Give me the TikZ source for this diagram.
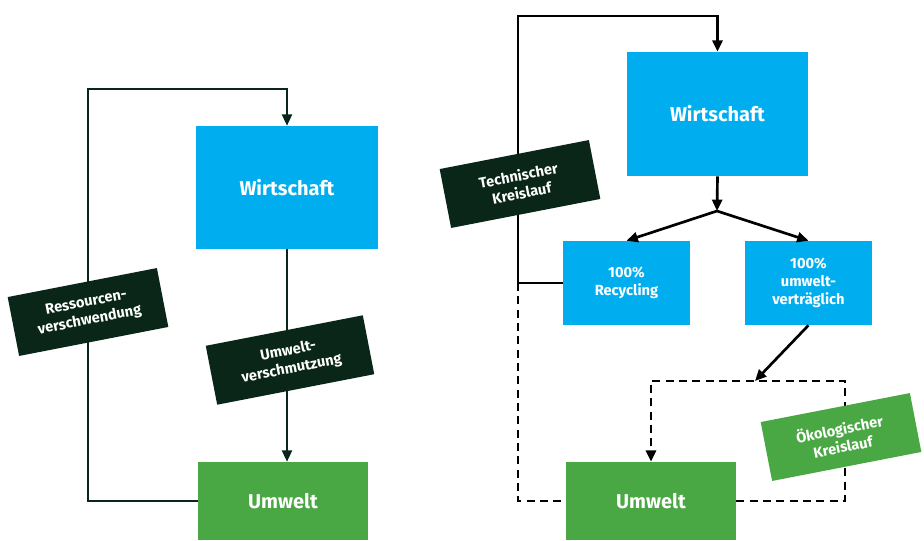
\documentclass[tikz,border=0pt]{standalone}
\usepackage{fontspec}
\setmainfont{Fira Sans}
\usetikzlibrary{arrows.meta}

\definecolor{wcyan}{RGB}{0,174,239}
\definecolor{ugreen}{RGB}{74,168,68}
\definecolor{kdark}{RGB}{9,38,24}

\tikzset{
  bigbox/.style={fill=wcyan, text=white, inner sep=0pt, align=center,
    font=\bfseries\fontsize{15}{18}\selectfont},
  smallbox/.style={fill=wcyan, text=white, inner sep=0pt, align=center,
    minimum width=95.25pt, minimum height=63pt,
    font=\bfseries\fontsize{11}{13.5}\selectfont},
  tag/.style={fill=kdark, text=white, inner sep=0pt, align=center, rotate=11,
    minimum width=114pt, minimum height=45pt,
    font=\bfseries\fontsize{11}{13.5}\selectfont},
  flow/.style={line width=2pt, black},
  thinflow/.style={line width=1.6pt, kdark},
  arr/.style={-{Triangle[length=8.5pt,width=7.5pt]}},
}

\begin{document}
\begin{tikzpicture}[x=0.75pt,y=0.75pt,yscale=-1,xscale=1]
\useasboundingbox (0,0) rectangle (924,540);

%Left: Wirtschaft and Umwelt
\node [bigbox, minimum width=136.5pt, minimum height=92.25pt] (wirtL) at (287,187.5) {Wirtschaft};
\node [bigbox, fill=ugreen, minimum width=127.5pt, minimum height=58.5pt] (umweltL) at (283,501) {Umwelt};
\coordinate (cornerL) at (88,89);

%Right: Wirtschaft, the two ways out, Umwelt
\node [bigbox, minimum width=135.75pt, minimum height=93pt] (wirtR) at (717.5,114) {Wirtschaft};
\node [smallbox] (recyc) at (626.5,283) {100\%\\Recycling};
\node [smallbox] (vertr) at (808.5,283) {100\%\\umwelt-\\verträglich};
\node [bigbox, fill=ugreen, minimum width=127.5pt, minimum height=58.5pt] (umweltR) at (651,501) {Umwelt};
\coordinate (split) at (717,211);
\coordinate (cornerT) at (518,16);
\coordinate (dashL) at (518,283);
\coordinate (cornerO) at (845,381);
\coordinate (oekoIn) at (755,381);

%Straight Lines (left)
\draw [thinflow, arr] (umweltL.west) -| (cornerL) -| (wirtL.north);
\draw [thinflow, arr] (wirtL.south) -- (wirtL.south |- umweltL.north);

%Straight Lines (right)
\draw [flow, arr] (wirtR.south) -- (split);
\draw [flow, arr] (split) -- (recyc.north);
\draw [flow, arr] (split) -- (vertr.north);
\draw [flow, arr] (recyc.west) -| (cornerT) -| (wirtR.north);
\draw [flow, arr] (vertr.south) -- (oekoIn);
%Dashed Lines
\draw [flow, dash pattern=on 6pt off 4pt] (dashL) |- (umweltR.west);
\draw [flow, dash pattern=on 6pt off 4pt, arr] (umweltR.east) -| (cornerO) -| (umweltR.north);

% Text Node
\node [tag] (ressTag) at (88,312) {Ressourcen-\\verschwendung};
% Text Node
\node [tag, minimum width=120pt] (verschTag) at (290,360) {Umwelt-\\verschmutzung};
% Text Node
\node [tag] (techTag) at (520,184) {Technischer\\Kreislauf};
% Text Node
\node [tag, fill=ugreen] (oekoTag) at (841,437) {Ökologischer\\Kreislauf};

\end{tikzpicture}
\end{document}
